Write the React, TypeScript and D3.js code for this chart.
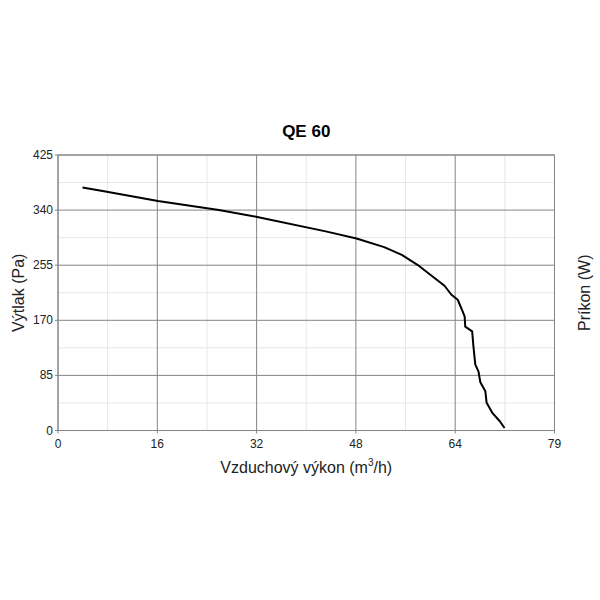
import React from "react";
import * as d3 from "d3";

const title = "QE 60";
const xLabel = "Vzduchový výkon (m";
const yLabelLeft = "Výtlak (Pa)";
const yLabelRight = "Príkon (W)";

const xTickLabels = ["0", "16", "32", "48", "64", "79"];
const yTickLabels = ["0", "85", "170", "255", "340", "425"];
const xMax = 79;
const yMax = 425;

const flow = [3.9, 7.55, 15.9, 25.6, 31.7, 42.6, 47.5, 51.9, 54.7, 57.2, 59.6, 61.5, 62.6, 63.6, 64.2, 64.7, 64.8, 65.9, 66.1, 66.4, 66.9, 67.2, 68.0, 68.2, 69.1, 70.3, 71.05];
const pressure = [375, 368.8, 354.2, 340.3, 329.5, 307.2, 296.1, 282.9, 271.0, 255.6, 237.6, 223.3, 209.4, 201.7, 187.9, 176.0, 160.2, 152.9, 129.8, 101.6, 91.3, 74.4, 60.5, 42.7, 27.3, 14.3, 3.8];

const W = 600;
const H = 600;
const left = 58;
const right = 554.5;
const top = 155;
const bottom = 430.5;
const font = "Liberation Sans, Arial, sans-serif";

export default function App() {
  const x = d3.scaleLinear().domain([0, xMax]).range([left, right]);
  const y = d3.scaleLinear().domain([0, yMax]).range([bottom, top]);
  const n = 5;
  const xTicks = d3.range(n + 1).map((i) => (i * xMax) / n);
  const yTicks = d3.range(n + 1).map((i) => (i * yMax) / n);
  const xMinor = d3.range(n).map((i) => ((i + 0.5) * xMax) / n);
  const yMinor = d3.range(n).map((i) => ((i + 0.5) * yMax) / n);
  const pts: [number, number][] = flow.map((f, i) => [f, pressure[i]]);
  const line = d3
    .line<[number, number]>()
    .x((d) => x(d[0]))
    .y((d) => y(d[1]))
    .curve(d3.curveLinear);
  const major = "#858585";
  const minor = "#e6e6e6";
  return (
    <svg
      width={W}
      height={H}
      style={{ position: "absolute", left: 0, top: 0, background: "#fff" }}
      fontFamily={font}
    >
      <rect x={0} y={0} width={W} height={H} fill="#fff" />
      {xMinor.map((v, i) => (
        <line key={"xm" + i} x1={x(v)} x2={x(v)} y1={top} y2={bottom} stroke={minor} strokeWidth={1} />
      ))}
      {yMinor.map((v, i) => (
        <line key={"ym" + i} x1={left} x2={right} y1={y(v)} y2={y(v)} stroke={minor} strokeWidth={1} />
      ))}
      {xTicks.map((v, i) => (
        <line key={"xg" + i} x1={x(v)} x2={x(v)} y1={top} y2={bottom + 3} stroke={major} strokeWidth={1} />
      ))}
      {yTicks.map((v, i) => (
        <line key={"yg" + i} x1={left - 3} x2={right} y1={y(v)} y2={y(v)} stroke={major} strokeWidth={1} />
      ))}
      <rect x={left} y={top} width={right - left} height={bottom - top} fill="none" stroke={major} strokeWidth={1} />
      {xTicks.map((v, i) => (
        <text key={"xt" + i} x={x(v)} y={bottom + 17} textAnchor="middle" fontSize={12} fill="#222">
          {xTickLabels[i]}
        </text>
      ))}
      {yTicks.map((v, i) => (
        <text key={"yt" + i} x={left - 5} y={y(v) + 4} textAnchor="end" fontSize={12} fill="#222">
          {yTickLabels[i]}
        </text>
      ))}
      <path d={line(pts) || ""} fill="none" stroke="#000" strokeWidth={2} strokeLinejoin="round" />
      <text x={(left + right) / 2} y={137} textAnchor="middle" fontSize={17} fontWeight="bold" fill="#000">
        {title}
      </text>
      <text x={(left + right) / 2} y={473} textAnchor="middle" fontSize={16} fill="#222">
        {xLabel}
        <tspan fontSize={10} dy={-7}>3</tspan>
        <tspan dy={7}>/h)</tspan>
      </text>
      <text
        transform={`translate(24, ${(top + bottom) / 2}) rotate(-90)`}
        textAnchor="middle"
        fontSize={16}
        fill="#222"
      >
        {yLabelLeft}
      </text>
      <text
        transform={`translate(590, ${(top + bottom) / 2}) rotate(-90)`}
        textAnchor="middle"
        fontSize={16}
        fill="#222"
      >
        {yLabelRight}
      </text>
    </svg>
  );
}
